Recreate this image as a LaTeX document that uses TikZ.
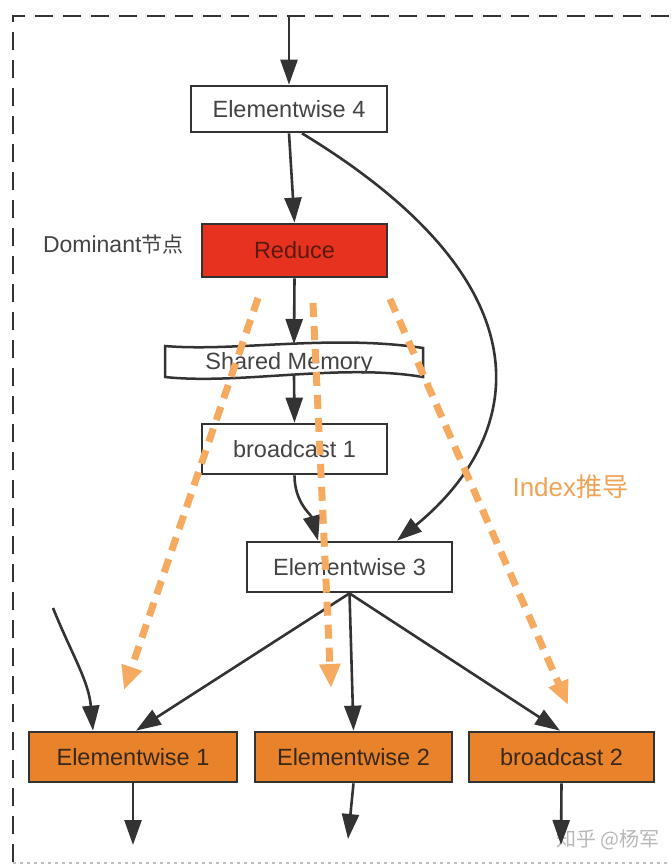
\documentclass[tikz,border=0pt]{standalone}
\usepackage{fontspec}
\setmainfont{Liberation Sans}
\newfontfamily\cjk{Noto Sans CJK SC}
\usetikzlibrary{arrows.meta}
\definecolor{redfill}{HTML}{E6321F}
\definecolor{orfill}{HTML}{E8832B}
\definecolor{ordash}{HTML}{F5AA5F}
\definecolor{idxtext}{HTML}{F0A255}
\definecolor{boxline}{HTML}{333333}
\definecolor{txt}{HTML}{444444}
\definecolor{redtxt}{HTML}{5A1A10}
\definecolor{ortxt}{HTML}{3A2818}
\tikzset{
  box/.style={draw=boxline, line width=2.7pt, minimum height=50pt, inner sep=0pt,
    font=\fontsize{23.5}{26}\selectfont, text=txt},
  whitebox/.style={box, fill=white},
  redbox/.style={box, fill=redfill, text=redtxt},
  orbox/.style={box, fill=orfill, text=ortxt},
  conn/.style={draw=boxline, line width=2.6pt, -{Triangle[length=25pt,width=17pt]}},
  idx/.style={draw=ordash, line width=7pt, dash pattern=on 14pt off 9pt,
    -{Triangle[length=24pt,width=20pt]}},
  frame/.style={draw=boxline, line width=2.5pt, dash pattern=on 18pt off 10pt}
}
\begin{document}
\begin{tikzpicture}[x=1pt,y=-1pt]
\useasboundingbox (0,0) rectangle (670,865);
\fill[white] (0,0) rectangle (670,865);
% frame
\draw[frame] (13,862) -- (13,16) -- (672,16);
\draw[draw=black!25, line width=1.5pt, dash pattern=on 3pt off 4pt] (13,863) -- (670,863);

% nodes
\node[whitebox, minimum width=196pt, minimum height=46pt] (e4) at (289,109) {Elementwise 4};
\node[redbox, minimum width=185pt, minimum height=53pt] (red) at (294.5,250.5) {Reduce};
\node[font=\fontsize{23}{26}\selectfont, text=txt, anchor=east] (dom) at (187,245) {Dominant{\cjk\fontsize{21}{26}\selectfont 节点}};
\node[minimum width=258pt, minimum height=32pt, inner sep=0pt] (sm) at (294,360) {};
\draw[draw=boxline, line width=2.5pt, line join=miter]
  (165,346) .. controls (235,352) and (330,334) .. (423,348) -- (423,377)
  .. controls (340,363) and (240,385) .. (165,377) -- cycle;
\node[font=\fontsize{23.5}{26}\selectfont, text=txt] (smt) at (289,363) {Shared Memory};
\node[whitebox, minimum width=185pt] (b1) at (294.5,449) {broadcast 1};
\node[whitebox, minimum width=205pt] (e3) at (349.5,567) {Elementwise 3};
\node[orbox, minimum width=208pt] (e1) at (133,757) {Elementwise 1};
\node[orbox, minimum width=197pt] (e2) at (353.5,757) {Elementwise 2};
\node[orbox, minimum width=185pt] (b2) at (561.5,757) {broadcast 2};
\node[font=\fontsize{26}{30}\selectfont, text=idxtext, anchor=west] (idx) at (509,487) {Index{\cjk 推导}};
\node[font=\cjk\fontsize{20}{24}\selectfont, text=black!28] (wm) at (608,840) {知乎 @杨军};

% free ends
\coordinate (top) at (289,16);
\coordinate (in1) at (53,608);
\coordinate (o1) at (133,845);
\coordinate (o2) at (348,839);
\coordinate (o3) at (561,845);
\coordinate (s1) at (258,298);
\coordinate (t1) at (124,690);
\coordinate (s2) at (313,303);
\coordinate (t2) at (331,688);
\coordinate (s3) at (390,299);
\coordinate (t3) at (568,705);

% connectors
\draw[conn] (top) -- (e4.north);
\draw[conn] (e4.south) -- (red.north);
\draw[conn] ([xshift=13pt]e4.south) .. controls (560,290) and (520,440) .. ([xshift=47.5pt]e3.north);
\draw[conn] (red.south) -- (294,344);
\draw[conn] (294,376) -- (b1.north);
\draw[conn] (b1.south) to[out=-90,in=105] ([xshift=-31.5pt]e3.north);
\draw[conn] (e3.south) -- ([xshift=3pt]e1.north);
\draw[conn] (e3.south) -- (e2.north);
\draw[conn] (e3.south) -- ([xshift=-1.5pt]b2.north);
\draw[conn] (in1) to[out=-68,in=95] ([xshift=-40pt]e1.north);
\draw[conn] (e1.south) -- (o1);
\draw[conn] (e2.south) -- (o2);
\draw[conn] (b2.south) -- (o3);

% index derivation arrows
\draw[idx] (s1) -- (t1);
\draw[idx] (s2) -- (t2);
\draw[idx] (s3) -- (t3);
\end{tikzpicture}
\end{document}
